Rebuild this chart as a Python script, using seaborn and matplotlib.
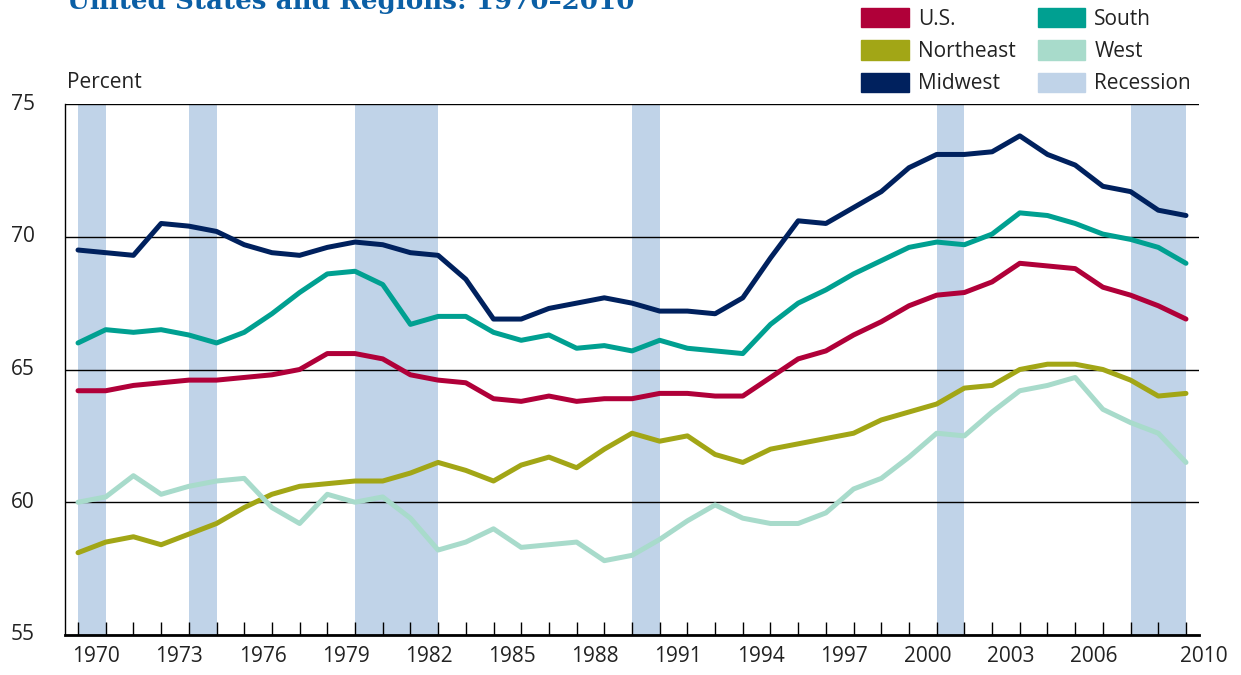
import numpy as np
import pandas as pd
import seaborn as sns
import matplotlib.pyplot as plt
from matplotlib.patches import Patch
from matplotlib.transforms import blended_transform_factory

years = list(range(1970, 2011))

us = [64.2, 64.2, 64.4, 64.5, 64.6, 64.6, 64.7, 64.8, 65.0, 65.6,
      65.6, 65.4, 64.8, 64.6, 64.5, 63.9, 63.8, 64.0, 63.8, 63.9,
      63.9, 64.1, 64.1, 64.0, 64.0, 64.7, 65.4, 65.7, 66.3, 66.8,
      67.4, 67.8, 67.9, 68.3, 69.0, 68.9, 68.8, 68.1, 67.8, 67.4, 66.9]
northeast = [58.1, 58.5, 58.7, 58.4, 58.8, 59.2, 59.8, 60.3, 60.6, 60.7,
             60.8, 60.8, 61.1, 61.5, 61.2, 60.8, 61.4, 61.7, 61.3, 62.0,
             62.6, 62.3, 62.5, 61.8, 61.5, 62.0, 62.2, 62.4, 62.6, 63.1,
             63.4, 63.7, 64.3, 64.4, 65.0, 65.2, 65.2, 65.0, 64.6, 64.0, 64.1]
midwest = [69.5, 69.4, 69.3, 70.5, 70.4, 70.2, 69.7, 69.4, 69.3, 69.6,
           69.8, 69.7, 69.4, 69.3, 68.4, 66.9, 66.9, 67.3, 67.5, 67.7,
           67.5, 67.2, 67.2, 67.1, 67.7, 69.2, 70.6, 70.5, 71.1, 71.7,
           72.6, 73.1, 73.1, 73.2, 73.8, 73.1, 72.7, 71.9, 71.7, 71.0, 70.8]
south = [66.0, 66.5, 66.4, 66.5, 66.3, 66.0, 66.4, 67.1, 67.9, 68.6,
         68.7, 68.2, 66.7, 67.0, 67.0, 66.4, 66.1, 66.3, 65.8, 65.9,
         65.7, 66.1, 65.8, 65.7, 65.6, 66.7, 67.5, 68.0, 68.6, 69.1,
         69.6, 69.8, 69.7, 70.1, 70.9, 70.8, 70.5, 70.1, 69.9, 69.6, 69.0]
west = [60.0, 60.2, 61.0, 60.3, 60.6, 60.8, 60.9, 59.8, 59.2, 60.3,
        60.0, 60.2, 59.4, 58.2, 58.5, 59.0, 58.3, 58.4, 58.5, 57.8,
        58.0, 58.6, 59.3, 59.9, 59.4, 59.2, 59.2, 59.6, 60.5, 60.9,
        61.7, 62.6, 62.5, 63.4, 64.2, 64.4, 64.7, 63.5, 63.0, 62.6, 61.5]

recessions = [(1970, 1971), (1974, 1975), (1980, 1983), (1990, 1991),
              (2001, 2002), (2008, 2010)]
label_years = [1970, 1973, 1976, 1979, 1982, 1985, 1988, 1991, 1994,
               1997, 2000, 2003, 2006, 2010]
y_ticks = [55, 60, 65, 70, 75]

colors = {'U.S.': '#b00039', 'Northeast': '#a2a616', 'Midwest': '#00215e',
          'South': '#00a091', 'West': '#a8dbcb'}
rec_color = '#c0d3e8'

df = pd.DataFrame({'year': years, 'U.S.': us, 'Northeast': northeast,
                   'Midwest': midwest, 'South': south, 'West': west})
long = df.melt(id_vars='year', var_name='region', value_name='rate')

sns.set_style('white')
plt.rcParams['font.family'] = ['Open Sans', 'DejaVu Sans']

fig = plt.figure(figsize=(12.41, 6.75), dpi=100)
ax = fig.add_axes([65 / 1241, 40 / 675, 1134 / 1241, 531 / 675])

for a, b in recessions:
    ax.axvspan(a, b, color=rec_color, lw=0, zorder=0.2)

sns.lineplot(data=long, x='year', y='rate', hue='region', palette=colors,
             linewidth=3.6, legend=False, ax=ax)

ax.set_xlim(1969.53, 2010.47)
ax.set_ylim(55, 75)
ax.set_axisbelow(True)
ax.yaxis.grid(True, color='black', lw=1)
ax.xaxis.grid(False)
ax.set_xticks(years)
ax.tick_params(axis='x', direction='in', length=9.5, width=1, color='black',
               labelbottom=False, bottom=True)
ax.set_yticks(y_ticks)
ax.set_yticklabels([])
ax.tick_params(axis='y', length=0)
ax.set_xlabel('')
ax.set_ylabel('')

for side in ['top', 'right']:
    ax.spines[side].set_visible(False)
ax.spines['left'].set_color('black')
ax.spines['left'].set_linewidth(1)
ax.spines['bottom'].set_color('black')
ax.spines['bottom'].set_linewidth(2)

# y labels sit well left of the axis, x labels are shifted right of their tick
ytrans = blended_transform_factory(fig.transFigure, ax.transData)
for v in y_ticks:
    fig.text(35 / 1241, v, str(v), transform=ytrans, ha='right', va='center',
             fontsize=15, color='#222222')

trans = blended_transform_factory(ax.transData, ax.transAxes)
for yr in label_years:
    ax.text(yr + 0.66, -0.04, str(yr), transform=trans, ha='center',
            va='center', fontsize=15, color='#222222', clip_on=False)

fig.text(67 / 1241, 1 - 82 / 675, 'Percent', fontsize=15, color='#222222',
         ha='left', va='center')
fig.text(67 / 1241, 1 - 9 / 675, 'United States and Regions: 1970\u20132010',
         fontsize=18.8, fontweight='bold', color='#0b5fa5', ha='left',
         va='baseline', family=['DejaVu Serif'])

handles = [Patch(color=colors[k], label=k) for k in
           ['U.S.', 'Northeast', 'Midwest', 'South', 'West']]
handles.append(Patch(color=rec_color, label='Recession'))
fig.legend(handles=handles, ncol=2, loc='upper left',
           bbox_to_anchor=(861 / 1241, 1 - 8 / 675), frameon=False,
           fontsize=15, handlelength=2.3, handleheight=1.06,
           handletextpad=0.43, labelspacing=0.5, columnspacing=1.05,
           borderpad=0, borderaxespad=0, labelcolor='#222222')

fig.savefig('out.png', dpi=100)
